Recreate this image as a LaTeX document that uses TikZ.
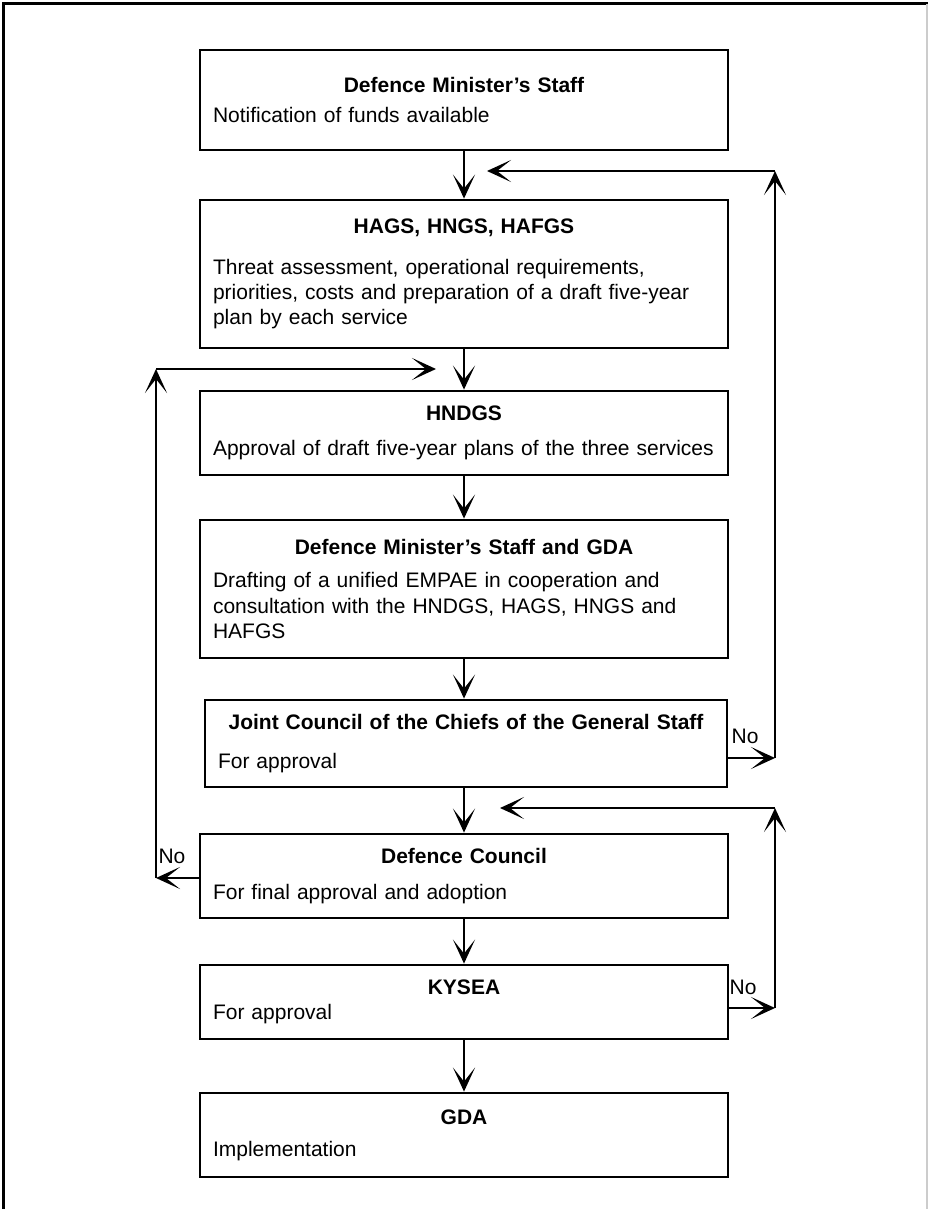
\documentclass[tikz,border=0pt]{standalone}
\usepackage{fontspec}
\setmainfont{Liberation Sans}
\usepackage{tikz}
\usetikzlibrary{positioning,calc,arrows.meta}

\newcommand{\stagetext}[3][0pt]{{\centering\bfseries #2\par}\vspace{#1}#3}

\begin{document}
\begin{tikzpicture}[x=0.5pt, y=-0.5pt,
    stage/.style={draw, line width=1.4pt, minimum width=264pt, text width=251pt,
        inner xsep=6.5pt, inner ysep=0pt, align=left,
        font=\fontsize{10.5}{12.6}\selectfont},
    flow/.style={-{Stealth[length=12pt,width=11pt,inset=7pt]}, line width=1.2pt},
    lbl/.style={font=\fontsize{10.5}{12.6}\selectfont, inner sep=0pt}]
    \useasboundingbox (0,0) rectangle (928,1209);
    \draw[line width=1.5pt] (3,1209) -- (3,4) -- (928,4);
    \draw[gray!40, line width=0.6pt] (927,4) -- (927,1209);

    \node[stage, minimum height=50pt] (dms) at (464,100)
        {\stagetext[2.5pt]{Defence Minister's Staff}{Notification of funds available}};
    \node[stage, minimum height=74pt] (hags) at (464,274)
        {\stagetext[7.5pt]{HAGS, HNGS, HAFGS}{Threat assessment, operational requirements,\\
         priorities, costs and preparation of a draft five-year\\ plan by each service}};
    \node[stage, minimum height=42pt] (hndgs) at (464,433)
        {\stagetext[5pt]{HNDGS}{Approval of draft five-year plans of the three services}};
    \node[stage, minimum height=69pt] (dmsgda) at (464,589)
        {\stagetext[4pt]{Defence Minister's Staff and GDA}{Drafting of a unified EMPAE in cooperation and\\
         consultation with the HNDGS, HAGS, HNGS and\\ HAFGS}};
    \node[stage, minimum height=43.5pt, minimum width=261pt, text width=248pt] (jccgs) at (466,743.5)
        {\stagetext[7pt]{Joint Council of the Chiefs of the General Staff}{For approval}};
    \node[stage, minimum height=42pt] (dc) at (464,876)
        {\stagetext[5pt]{Defence Council}{For final approval and adoption}};
    \node[stage, minimum height=37pt] (kysea) at (464,1002)
        {\stagetext{KYSEA}{For approval}};
    \node[stage, minimum height=42pt] (gda) at (464,1135)
        {\stagetext[3.5pt]{GDA}{Implementation}};

    \foreach \a/\b in {dms/hags, hags/hndgs, hndgs/dmsgda, dmsgda/jccgs, jccgs/dc, dc/kysea, kysea/gda}
        \draw[flow] (\a.south -| dms) -- (\b.north -| dms);

    \coordinate (jno) at (775,758);
    \coordinate (jtop) at (775,171);
    \coordinate (jend) at (487,171);
    \draw[flow] (jccgs.east |- jno) -- (jno);
    \draw[flow] (jno) -- (jtop);
    \draw[flow] (jtop) -- (jend);
    \node[lbl] (jlbl) at (745,736) {No};

    \coordinate (kno) at (775,1008);
    \coordinate (ktop) at (775,808);
    \coordinate (kend) at (500,808);
    \draw[flow] (kysea.east |- kno) -- (kno);
    \draw[flow] (kno) -- (ktop);
    \draw[flow] (ktop) -- (kend);
    \node[lbl] (klbl) at (743,987) {No};

    \coordinate (dno) at (156,878);
    \coordinate (dtop) at (156,369);
    \coordinate (dend) at (436,369);
    \draw[flow] (dc.west |- dno) -- (dno);
    \draw[flow] (dno) -- (dtop);
    \draw[flow] (dtop) -- (dend);
    \node[lbl] (dlbl) at (172,856) {No};
\end{tikzpicture}
\end{document}
